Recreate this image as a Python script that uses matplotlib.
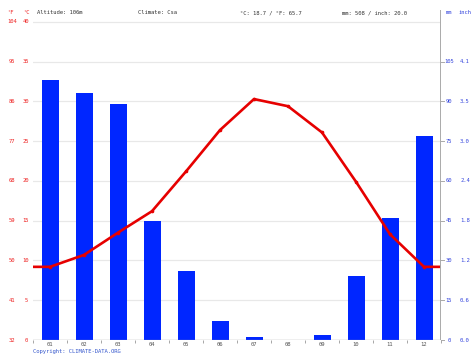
import matplotlib
matplotlib.use("Agg")
import matplotlib.pyplot as plt
import matplotlib.transforms as mtransforms
import numpy as np

months = ["01", "02", "03", "04", "05", "06", "07", "08", "09", "10", "11", "12"]
precip_mm = [98, 93, 89, 45, 26, 7, 1, 0, 2, 24, 46, 77]
temp_c = [9.2, 10.7, 13.5, 16.2, 21.2, 26.4, 30.3, 29.4, 26.1, 19.9, 13.3, 9.2]
c_ticks = [0, 5, 10, 15, 20, 25, 30, 35, 40]
f_labels = ["32", "41", "50", "59", "68", "77", "86", "95", "104"]
mm_ticks = [0, 15, 30, 45, 60, 75, 90, 105]
inch_labels = ["0.0", "0.6", "1.2", "1.8", "2.4", "3.0", "3.5", "4.1"]
header = ["Altitude: 106m", "Climate: Csa", "°C: 18.7 / °F: 65.7", "mm: 508 / inch: 20.0"]

W, H = 474, 355
fig = plt.figure(figsize=(W / 100, H / 100), dpi=100)
left, right, bottom_px, top_px = 33, 441, 340, 10
ax = fig.add_axes([left / W, (H - bottom_px) / H, (right - left) / W, (bottom_px - top_px) / H])
ax2 = ax.twinx()

TMAX = 41.5
ax.set_xlim(0, 12)
ax.set_ylim(0, TMAX * 3)
ax2.set_ylim(0, TMAX)

for a in (ax, ax2):
    for s in a.spines.values():
        s.set_visible(False)
    a.set_yticks([])
    a.tick_params(length=0)

FS = 4.0
mono = "DejaVu Sans Mono"

# gridlines (in temperature steps, drawn on the bar axis so bars cover them)
gtrans = mtransforms.blended_transform_factory(ax.transAxes, ax2.transData)
for c in c_ticks:
    ax.plot([0, 1], [c, c], transform=gtrans, color="#e8e8e8", lw=0.9, zorder=0)

x = np.arange(12) + 0.5
ax.bar(x, precip_mm, width=0.5, color="#0026ff", zorder=2)

# temperature line extended to edges
edge = (temp_c[0] + temp_c[-1]) / 2
xl = np.concatenate([[0], x, [12]])
yl = np.concatenate([[edge], temp_c, [edge]])
ax2.plot(xl, yl, color="#e60000", lw=1.9, zorder=5, solid_joinstyle="round")
ax2.plot(x, temp_c, "o", color="#e60000", ms=1.6, zorder=6)

# bottom axis
ax2.axhline(0, color="#999999", lw=0.9, zorder=7)
ax.set_xticks(np.arange(0, 13))
ax.set_xticklabels([])
ax.tick_params(axis="x", length=2.0, color="#999999", width=0.6, direction="out")
xt = mtransforms.blended_transform_factory(ax.transData, fig.transFigure)
for xi, m in zip(x, months):
    ax.text(xi, 1 - 344.5 / H, m, transform=xt,
            ha="center", va="center", fontsize=FS, family=mono, color="#555555")

# right axis line
ax2.axvline(12, ymin=0, ymax=1, color="#aaaaaa", lw=1.4, zorder=7)

t = mtransforms.blended_transform_factory(fig.transFigure, ax2.transData)
for c, f in zip(c_ticks, f_labels):
    fig.text(12 / W, c, f, transform=t, ha="center", va="center", fontsize=FS, family=mono, color="#ee2222")
    fig.text(26 / W, c, str(c), transform=t, ha="center", va="center", fontsize=FS, family=mono, color="#ee2222")

mtrans = mtransforms.blended_transform_factory(fig.transFigure, ax.transData)
for mm, inch in zip(mm_ticks, inch_labels):
    fig.text(449 / W, mm, str(mm), transform=mtrans, ha="center", va="center", fontsize=FS, family=mono, color="#3344dd")
    fig.text(465 / W, mm, inch, transform=mtrans, ha="center", va="center", fontsize=FS, family=mono, color="#3344dd")
    ax.plot([12, 12.08], [mm, mm], color="#aaaaaa", lw=0.7, clip_on=False, zorder=7)

# header
hy = 1 - 13 / H
fig.text(10 / W, hy, "°F", ha="center", va="center", fontsize=FS, family=mono, color="#ee2222")
fig.text(26 / W, hy, "°C", ha="center", va="center", fontsize=FS, family=mono, color="#ee2222")
for xp, txt in zip([37, 138, 240, 342], header):
    fig.text(xp / W, hy, txt, ha="left", va="center", fontsize=FS, family=mono, color="#333333")
fig.text(449 / W, hy, "mm", ha="center", va="center", fontsize=FS, family=mono, color="#3344dd")
fig.text(465 / W, hy, "inch", ha="center", va="center", fontsize=FS, family=mono, color="#3344dd")

fig.text(33 / W, 1 - 351.5 / H, "Copyright: CLIMATE-DATA.ORG", ha="left", va="center",
         fontsize=FS, family=mono, color="#3355cc")

fig.savefig("out.png", dpi=100)
